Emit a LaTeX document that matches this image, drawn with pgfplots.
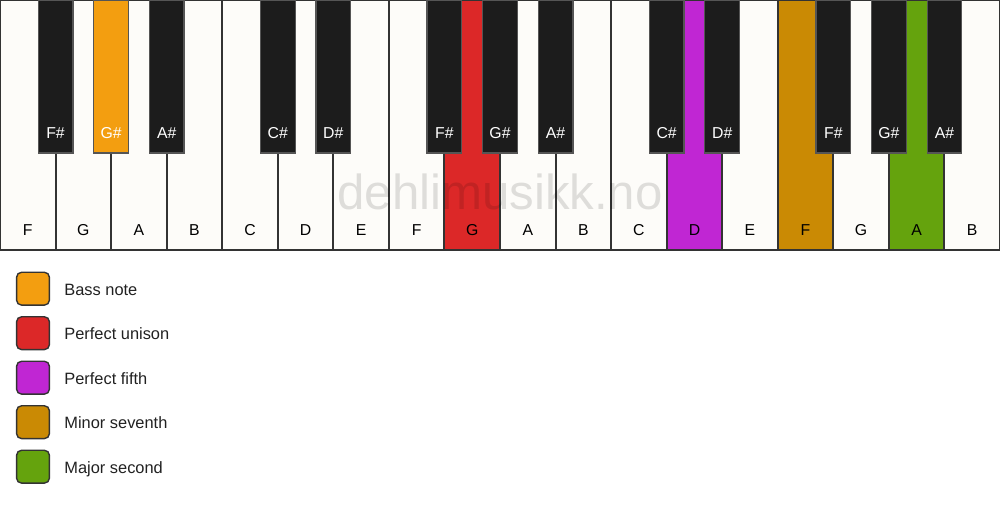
\documentclass[border=0pt]{standalone}
\usepackage{fontspec}
\setmainfont{Liberation Sans}
\usepackage{pgfplots}
\pgfplotsset{compat=1.18}

\definecolor{keywhite}{HTML}{FDFCF9}
\definecolor{keyblack}{HTML}{1C1C1C}
\definecolor{keyedge}{HTML}{333333}
\definecolor{blackedge}{HTML}{555555}
\definecolor{bass}{HTML}{F39E10}
\definecolor{unison}{HTML}{DC2828}
\definecolor{fifth}{HTML}{C026D3}
\definecolor{seventh}{HTML}{CA8A04}
\definecolor{second}{HTML}{65A30D}

% rounded square for the legend swatches
\pgfdeclareplotmark{rsquare}{%
  \pgfsetcornersarced{\pgfpoint{0.3\pgfplotmarksize}{0.3\pgfplotmarksize}}%
  \pgfpathmoveto{\pgfpoint{0pt}{-\pgfplotmarksize}}%
  \pgfpathlineto{\pgfpoint{\pgfplotmarksize}{-\pgfplotmarksize}}%
  \pgfpathlineto{\pgfpoint{\pgfplotmarksize}{\pgfplotmarksize}}%
  \pgfpathlineto{\pgfpoint{-\pgfplotmarksize}{\pgfplotmarksize}}%
  \pgfpathlineto{\pgfpoint{-\pgfplotmarksize}{-\pgfplotmarksize}}%
  \pgfpathclose
  \pgfusepath{fill,stroke}}

\begin{document}
\begin{tikzpicture}
\begin{axis}[
  x=27.7778pt, y=0.5pt, y dir=reverse,
  xmin=0, xmax=18, ymin=0, ymax=506,
  hide axis, clip=false,
  every axis plot/.append style={bar shift=0pt},
  keylabel/.style={only marks, mark=none, nodes near coords,
    point meta=explicit symbolic,
    nodes near coords align={anchor=base},
    every node near coord/.append style={inner sep=0pt,
      font=\fontsize{7.9}{9}\selectfont}},
]
\coordinate (bl) at (axis cs:0,506);
\coordinate (tr) at (axis cs:18,0);

% white keys, F to B
\addplot[ybar, bar width=1, fill=keywhite, draw=keyedge, line width=1pt]
  coordinates {(0.5,250)(1.5,250)(2.5,250)(3.5,250)(4.5,250)(5.5,250)
    (6.5,250)(7.5,250)(8.5,250)(9.5,250)(10.5,250)(11.5,250)(12.5,250)
    (13.5,250)(14.5,250)(15.5,250)(16.5,250)(17.5,250)};
\addplot[ybar, bar width=1, fill=unison, draw=keyedge, line width=1pt]
  coordinates {(8.5,250)};
\addplot[ybar, bar width=1, fill=fifth, draw=keyedge, line width=1pt]
  coordinates {(12.5,250)};
\addplot[ybar, bar width=1, fill=seventh, draw=keyedge, line width=1pt]
  coordinates {(14.5,250)};
\addplot[ybar, bar width=1, fill=second, draw=keyedge, line width=1pt]
  coordinates {(16.5,250)};

% black keys
\addplot[ybar, bar width=0.625, fill=keyblack, draw=blackedge, line width=0.6pt]
  coordinates {(1,153)(3,153)(5,153)(6,153)(8,153)(9,153)(10,153)
    (12,153)(13,153)(15,153)(16,153)(17,153)};
\addplot[ybar, bar width=0.625, fill=bass, draw=blackedge, line width=0.6pt]
  coordinates {(2,153)};

% key names
\addplot[keylabel, every node near coord/.append style={text=black}]
  table[meta=label] {
x y label
0.5 236 F
1.5 236 G
2.5 236 A
3.5 236 B
4.5 236 C
5.5 236 D
6.5 236 E
7.5 236 F
8.5 236 G
9.5 236 A
10.5 236 B
11.5 236 C
12.5 236 D
13.5 236 E
14.5 236 F
15.5 236 G
16.5 236 A
17.5 236 B
};
\addplot[keylabel, every node near coord/.append style={text=white}]
  table[meta=label] {
x y label
1 138.5 F\#
2 138.5 G\#
3 138.5 A\#
5 138.5 C\#
6 138.5 D\#
8 138.5 F\#
9 138.5 G\#
10 138.5 A\#
12 138.5 C\#
13 138.5 D\#
15 138.5 F\#
16 138.5 G\#
17 138.5 A\#
};

\node[font=\fontsize{24.6}{26}\selectfont, text=black, text opacity=0.12,
  inner sep=0pt] at (axis cs:9,192) {dehlimusikk.no};

% legend swatches
\addplot[only marks, mark=rsquare, mark size=8.2pt,
  mark options={fill=bass, draw=keyedge, line width=0.7pt}] coordinates {(0.594,288.7)};
\addplot[only marks, mark=rsquare, mark size=8.2pt,
  mark options={fill=unison, draw=keyedge, line width=0.7pt}] coordinates {(0.594,333.2)};
\addplot[only marks, mark=rsquare, mark size=8.2pt,
  mark options={fill=fifth, draw=keyedge, line width=0.7pt}] coordinates {(0.594,377.7)};
\addplot[only marks, mark=rsquare, mark size=8.2pt,
  mark options={fill=seventh, draw=keyedge, line width=0.7pt}] coordinates {(0.594,422.2)};
\addplot[only marks, mark=rsquare, mark size=8.2pt,
  mark options={fill=second, draw=keyedge, line width=0.7pt}] coordinates {(0.594,466.7)};

\addplot[keylabel, nodes near coords align={anchor=base west},
  every node near coord/.append style={text=black!87,
    font=\fontsize{8.2}{10}\selectfont}]
  table[meta=label] {
x y label
1.152 295.5 {Bass note}
1.152 340.0 {Perfect unison}
1.152 384.5 {Perfect fifth}
1.152 429.0 {Minor seventh}
1.152 473.5 {Major second}
};
\end{axis}
\pgfresetboundingbox
\path[use as bounding box] (bl) rectangle (tr);
\end{tikzpicture}
\end{document}
